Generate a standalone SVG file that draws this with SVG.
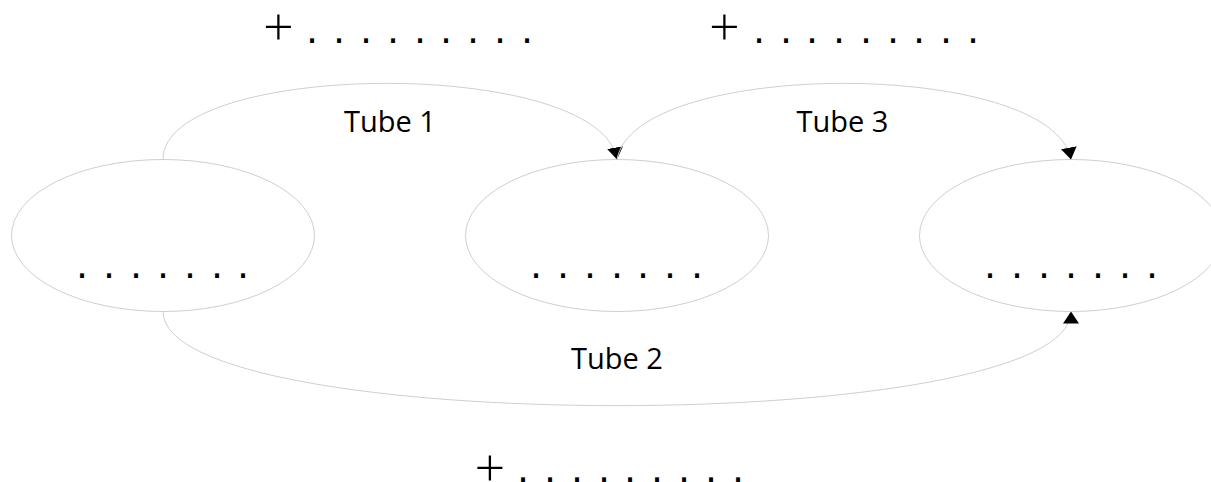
<svg xmlns="http://www.w3.org/2000/svg" width="1211" height="482" viewBox="0 0 1211 482">
  <style>
    .node { fill: #ffffff; stroke: #cfcfcf; stroke-width: 1; }
    .edge { fill: none; stroke: #cfcfcf; stroke-width: 1; marker-end: url(#arrow); }
    .dots { font-family: "DejaVu Sans", sans-serif; font-size: 38px; fill: #000; text-anchor: middle; }
    .plus { font-family: "Open Sans", "DejaVu Sans", sans-serif; font-weight: 300; font-size: 54px; fill: #000; text-anchor: middle; }
    .label { font-family: "Open Sans", "DejaVu Sans", sans-serif; font-size: 29px; fill: #000; text-anchor: middle; }
  </style>
  <defs>
    <marker id="arrow" viewBox="0 0 12 16" refX="12" refY="8" markerWidth="12" markerHeight="16" orient="auto" markerUnits="userSpaceOnUse">
      <path d="M0,0 L12,8 L0,16 Z" fill="#000"/>
    </marker>
  </defs>
  <rect width="1211" height="482" fill="#ffffff"/>

  <g id="node-left">
    <ellipse class="node" cx="163" cy="235.5" rx="151.5" ry="76"/>
    <text class="dots" x="82 109 136 163 190 217 243" y="278">.......</text>
  </g>
  <g id="node-middle">
    <ellipse class="node" cx="617" cy="235.5" rx="151.5" ry="76"/>
    <text class="dots" x="536 563 590 617 643 670 697" y="278">.......</text>
  </g>
  <g id="node-right">
    <ellipse class="node" cx="1071" cy="235.5" rx="151.5" ry="76"/>
    <text class="dots" x="990 1017 1044 1071 1098 1125 1152" y="278">.......</text>
  </g>

  <g id="connectors">
    <path id="tube1" class="edge" d="M163,159.5 C163,60 600,56 617,159.5"/>
    <path id="tube3" class="edge" d="M617,159.5 C635,58 1052,58 1071,159.5"/>
    <path id="tube2" class="edge" d="M163,311.5 C163,437 1071,437 1071,311.5"/>
    <text class="label" x="390" y="132">Tube 1</text>
    <text class="label" x="842.5" y="132">Tube 3</text>
    <text class="label" x="617" y="369">Tube 2</text>
  </g>

  <g id="annotations">
    <text class="plus" x="278.5" y="46">+</text>
    <text class="dots" x="312 339 366 393 420 446 473 500 527" y="43">.........</text>
    <text class="plus" x="724.5" y="46">+</text>
    <text class="dots" x="759 786 812 839 866 893 919 946 973" y="43">.........</text>
    <text class="plus" x="490" y="487">+</text>
    <text class="dots" x="523 550 577 604 630 657 684 711 738" y="482">.........</text>
  </g>
</svg>
